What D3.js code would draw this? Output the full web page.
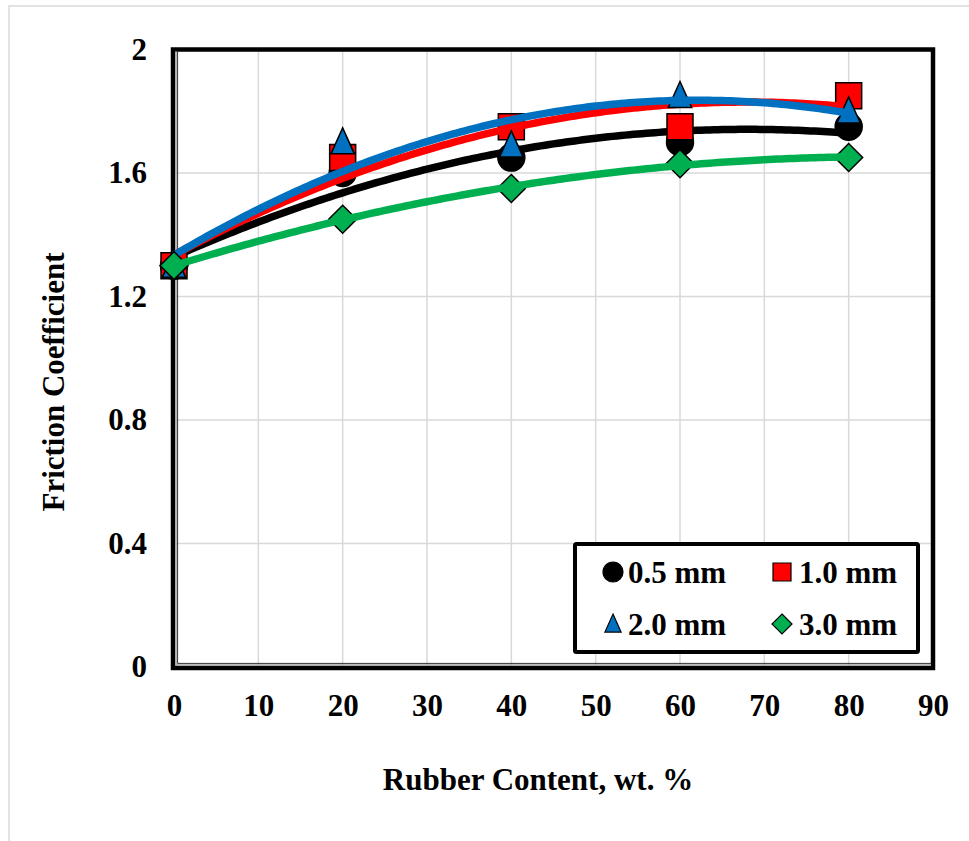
<!DOCTYPE html>
<html>
<head>
<meta charset="utf-8">
<script src="https://cdn.jsdelivr.net/npm/d3@7"></script>
<style>
  html, body { margin: 0; padding: 0; background: #fff; }
  svg { display: block; }
  text { font-family: "Liberation Serif", "Times New Roman", serif; font-weight: bold; fill: #000; }
</style>
</head>
<body>
<svg id="chart" width="969" height="841"></svg>
<script>
// ---- data ----
const rubberContent = [0, 20, 40, 60, 80];
const seriesNames = ["0.5 mm", "1.0 mm", "2.0 mm", "3.0 mm"];
const friction05 = [1.30, 1.60, 1.65, 1.70, 1.75];
const friction10 = [1.30, 1.65, 1.75, 1.75, 1.85];
const friction20 = [1.30, 1.70, 1.69, 1.85, 1.80];
const friction30 = [1.30, 1.45, 1.55, 1.63, 1.65];
const xTicks = [0, 10, 20, 30, 40, 50, 60, 70, 80, 90];
const yTicks = [0, 0.4, 0.8, 1.2, 1.6, 2];
const yTickLabels = ["0", "0.4", "0.8", "1.2", "1.6", "2"];
const seriesColors = ["#000000", "#FF0000", "#0070C0", "#00B050"];
const seriesSymbols = ["circle", "square", "triangle", "diamond"];

const seriesValues = [friction05, friction10, friction20, friction30];

const FS = 31;
const svg = d3.select("#chart");
const plot = { left: 174, right: 933, top: 49.5, bottom: 667 };

const x = d3.scaleLinear().domain([0, 90]).range([plot.left, plot.right]);
const y = d3.scaleLinear().domain([0, 2]).range([plot.bottom, plot.top]);

// outer chart-area border (light gray, left & top visible)
svg.append("rect").attr("x", 9).attr("y", 6).attr("width", 1000).attr("height", 900)
  .attr("fill", "#fff").attr("stroke", "#d9d9d9").attr("stroke-width", 1.5);

// gridlines
svg.append("g").selectAll("line.gx").data(xTicks.slice(1, -1)).join("line")
  .attr("x1", d => x(d)).attr("x2", d => x(d))
  .attr("y1", plot.top).attr("y2", plot.bottom)
  .attr("stroke", "#d9d9d9").attr("stroke-width", 1.5);
svg.append("g").selectAll("line.gy").data(yTicks.slice(1, -1)).join("line")
  .attr("x1", plot.left).attr("x2", plot.right)
  .attr("y1", d => y(d)).attr("y2", d => y(d))
  .attr("stroke", "#d9d9d9").attr("stroke-width", 1.5);

// plot frame (black with inner gray line on left & bottom)
svg.append("rect").attr("x", plot.left - 1).attr("y", plot.top)
  .attr("width", plot.right - plot.left + 1).attr("height", plot.bottom - plot.top + 1)
  .attr("fill", "none").attr("stroke", "#000").attr("stroke-width", 4.5);
svg.append("path")
  .attr("d", `M${plot.left + 2},${plot.top + 2} L${plot.left + 2},${plot.bottom - 2} L${plot.right - 2},${plot.bottom - 2}`)
  .attr("fill", "none").attr("stroke", "#a6a6a6").attr("stroke-width", 1.6);
svg.append("path")
  .attr("d", `M${plot.left + 3.6},${plot.top + 2} L${plot.left + 3.6},${plot.bottom - 3.6} L${plot.right - 2},${plot.bottom - 3.6}`)
  .attr("fill", "none").attr("stroke", "#000").attr("stroke-width", 0.8);

// axes (labels only, via d3 axis)
const xAxis = d3.axisBottom(x).tickValues(xTicks).tickSize(0).tickPadding(0).tickFormat(d3.format("d"));
const gx = svg.append("g").attr("transform", `translate(0,${plot.bottom + 39})`).call(xAxis);
gx.select(".domain").remove();
gx.selectAll("text").attr("font-size", FS).attr("dy", "0.32em")
  .style("font-family", '"Liberation Serif", serif').style("font-weight", "bold").attr("fill", "#000");

const yAxis = d3.axisLeft(y).tickValues(yTicks).tickSize(0).tickPadding(0)
  .tickFormat((d, i) => yTickLabels[i]);
const gy = svg.append("g").attr("transform", `translate(${plot.left - 27},0)`).call(yAxis);
gy.select(".domain").remove();
gy.selectAll("text").attr("font-size", FS).attr("dy", "0.32em")
  .style("font-family", '"Liberation Serif", serif').style("font-weight", "bold").attr("fill", "#000");

// axis titles
svg.append("text").attr("x", 538).attr("y", 779).attr("text-anchor", "middle")
  .attr("dy", "0.35em").attr("font-size", FS).text("Rubber Content, wt. %");
svg.append("text").attr("transform", "translate(53,382) rotate(-90)")
  .attr("text-anchor", "middle").attr("dy", "0.35em").attr("font-size", FS).text("Friction Coefficient");

// quadratic least-squares trendline from the data (like Excel's polynomial trendline)
function polyFit2(xs, ys) {
  const n = xs.length;
  let s = [0, 0, 0, 0, 0], t = [0, 0, 0];
  for (let i = 0; i < n; i++) {
    const xi = xs[i], yi = ys[i];
    for (let k = 0; k < 5; k++) s[k] += Math.pow(xi, k);
    for (let k = 0; k < 3; k++) t[k] += yi * Math.pow(xi, k);
  }
  const A = [[s[0], s[1], s[2]], [s[1], s[2], s[3]], [s[2], s[3], s[4]]];
  const b = t.slice();
  for (let i = 0; i < 3; i++) {
    let p = i;
    for (let r = i + 1; r < 3; r++) if (Math.abs(A[r][i]) > Math.abs(A[p][i])) p = r;
    [A[i], A[p]] = [A[p], A[i]]; [b[i], b[p]] = [b[p], b[i]];
    for (let r = i + 1; r < 3; r++) {
      const f = A[r][i] / A[i][i];
      for (let c = i; c < 3; c++) A[r][c] -= f * A[i][c];
      b[r] -= f * b[i];
    }
  }
  const c = [0, 0, 0];
  for (let i = 2; i >= 0; i--) {
    let sum = b[i];
    for (let j = i + 1; j < 3; j++) sum -= A[i][j] * c[j];
    c[i] = sum / A[i][i];
  }
  return xv => c[0] + c[1] * xv + c[2] * xv * xv;
}

function markerPath(sym, size) {
  if (sym === "circle") return d3.symbol(d3.symbolCircle, Math.PI * (size / 2) ** 2)();
  if (sym === "square") return d3.symbol(d3.symbolSquare, size * size)();
  if (sym === "triangle") {
    const w = size * 0.9, h = size;
    return `M0,${-h * 0.55}L${w / 2},${h * 0.45}L${-w / 2},${h * 0.45}Z`;
  }
  if (sym === "diamond") {
    const r = size / 2 + 1;
    return `M0,${-r}L${r},0L0,${r}L${-r},0Z`;
  }
}

const xs = d3.range(0, 80.01, 0.5);
const line = d3.line().x(d => x(d[0])).y(d => y(d[1])).curve(d3.curveLinear);

seriesValues.forEach((vals, si) => {
  const g = svg.append("g");
  // markers
  g.selectAll("path.m").data(rubberContent.map((rc, i) => [rc, vals[i]])).join("path")
    .attr("transform", d => `translate(${x(d[0])},${y(d[1])})`)
    .attr("d", markerPath(seriesSymbols[si], si === 0 ? 27 : 26))
    .attr("fill", seriesColors[si]).attr("stroke", "#000").attr("stroke-width", 1.5);
  // trendline
  const f = polyFit2(rubberContent, vals);
  g.append("path").datum(xs.map(v => [v, f(v)]))
    .attr("d", line).attr("fill", "none")
    .attr("stroke", seriesColors[si]).attr("stroke-width", 7.5).attr("stroke-linecap", "butt");
});

// legend
const lg = svg.append("g");
lg.append("rect").attr("x", 575).attr("y", 544).attr("width", 343).attr("height", 108)
  .attr("fill", "#fff").attr("stroke", "#000").attr("stroke-width", 4).attr("rx", 1.5);
const legendPos = [[613, 572, 628], [782, 572, 799], [613, 624, 628], [782, 624, 799]];
seriesNames.forEach((name, i) => {
  const [mx, my, tx] = legendPos[i];
  lg.append("path").attr("transform", `translate(${mx},${my})`)
    .attr("d", markerPath(seriesSymbols[i], i === 0 ? 20 : 18))
    .attr("fill", seriesColors[i]).attr("stroke", "#000").attr("stroke-width", 1.2);
  lg.append("text").attr("x", tx).attr("y", my).attr("dy", "0.35em")
    .attr("font-size", FS).text(name);
});
</script>
</body>
</html>
